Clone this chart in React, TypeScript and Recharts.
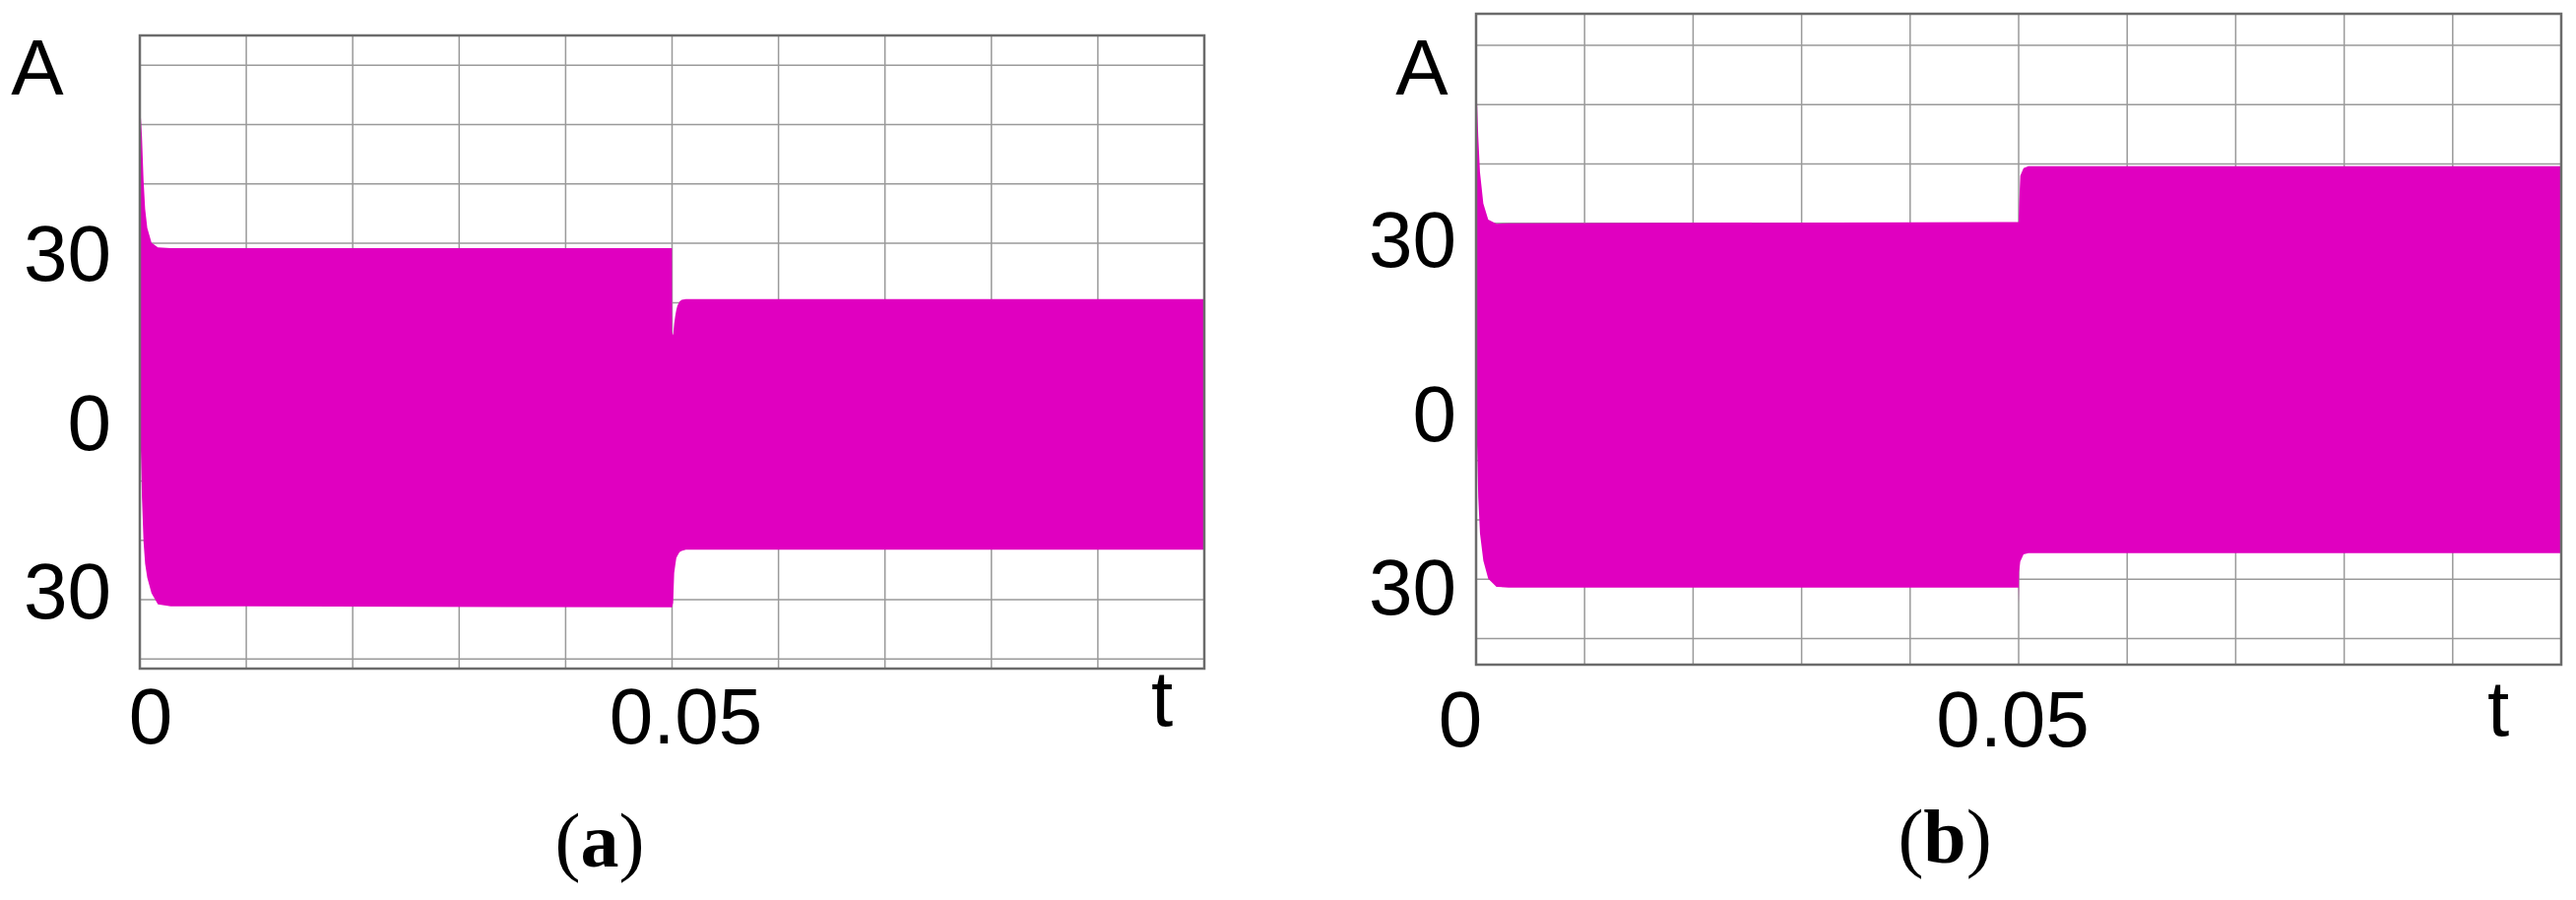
import { AreaChart, Area, XAxis, YAxis, CartesianGrid, ReferenceArea, Label } from 'recharts';

const MAGENTA = '#e000c0';
const GRID = '#9a9a9a';
const FRAME = '#6b6b6b';
const SANS = "'Liberation Sans', Arial, sans-serif";
const SERIF = "'Liberation Serif', 'Times New Roman', serif";

// shared axes (time in s, current in A)
const X_TICKS = [0, 0.01, 0.02, 0.03, 0.04, 0.05, 0.06, 0.07, 0.08, 0.09, 0.1];
const Y_TICKS = [-40, -30, -20, -10, 0, 10, 20, 30, 40, 50, 60];
const X_LABELS: Record<string, string> = { '0': '0', '0.05': '0.05', '0.1': 't' };
const Y_LABELS: Record<string, string> = { '30': '30', '0': '0', '-30': '30', '60': 'A' };

// panel (a): envelope of the current (upper / lower peaks)
const tA = [0, 0.0001, 0.0002, 0.00035, 0.0005, 0.0007, 0.0011, 0.0017, 0.0029, 0.04999, 0.05, 0.0501, 0.0502, 0.0503, 0.0504, 0.0505, 0.0507, 0.0509, 0.0513, 0.1];
const upperA = [54.3, 51, 48, 40.6, 35.8, 32.6, 30.1, 29.3, 29.2, 29.2, 15, 14.5, 16.5, 17.8, 18.8, 19.5, 20.2, 20.5, 20.6, 20.6];
const lowerA = [0, -5.3, -12.9, -20.3, -24, -26.3, -28.9, -30.8, -31.1, -31.3, -31.3, -30.5, -25.5, -24.2, -23, -22.6, -22, -21.8, -21.6, -21.6];

// panel (b)
const tB = [0, 0.0001, 0.0002, 0.00036, 0.00067, 0.00112, 0.00188, 0.003, 0.04999, 0.05, 0.05004, 0.05015, 0.05045, 0.0509, 0.1];
const upperB = [54.2, 50, 44.7, 38.6, 33.3, 30.6, 29.9, 30, 30.2, 30.2, 33, 38, 39.3, 39.6, 39.6];
const lowerB = [0, -8, -16.2, -22.3, -26.9, -29.9, -31.3, -31.4, -31.4, -34, -28.8, -27, -25.8, -25.6, -25.6];

const dataA = tA.map((t, i) => ({ t, band: [lowerA[i], upperA[i]] }));
const dataB = tB.map((t, i) => ({ t, band: [lowerB[i], upperB[i]] }));

type PanelCfg = {
  left: number;
  width: number;
  top: number;
  right: number;
  yAxisWidth: number;
  xAxisHeight: number;
  yDomain: [number, number];
  yGap: number;
  yDy: Record<string, number>;
  aDx: number;
  aDy: number;
  xDx: Record<string, number>;
  xDy: Record<string, number>;
  caption: string;
};

const cfgA: PanelCfg = {
  left: 0,
  width: 1260,
  top: 36,
  right: 37,
  yAxisWidth: 142,
  xAxisHeight: 235,
  yDomain: [-41.6, 65],
  yGap: 29,
  yDy: { '30': 9, '0': 0, '-30': -10 },
  aDx: -104,
  aDy: 30,
  xDx: { '0': 11, '0.05': 14, '0.1': -43 },
  xDy: { '0': 76, '0.05': 76, '0.1': 58 },
  caption: 'a',
};

const cfgB: PanelCfg = {
  left: 1300,
  width: 1316,
  top: 14,
  right: 15,
  yAxisWidth: 199,
  xAxisHeight: 239,
  yDomain: [-44.4, 65.3],
  yGap: 20,
  yDy: { '30': 16, '0': 12, '-30': 7 },
  aDx: -55,
  aDy: 50,
  xDx: { '0': -16, '0.05': -6, '0.1': -64 },
  xDy: { '0': 83, '0.05': 83, '0.1': 72 },
  caption: 'b',
};

const YTick = ({ x, y, payload, cfg }: any) => {
  const key = String(payload.value);
  const text = Y_LABELS[key];
  if (!text) return <g />;
  if (key === '60') {
    return (
      <text x={x + cfg.aDx} y={y + cfg.aDy} textAnchor="middle" fontFamily={SANS} fontSize={80} fill="#000">
        {text}
      </text>
    );
  }
  return (
    <text x={x - cfg.yGap} y={y + cfg.yDy[key] + 28.6} textAnchor="end" fontFamily={SANS} fontSize={80} fill="#000">
      {text}
    </text>
  );
};

const XTick = ({ x, y, payload, cfg }: any) => {
  const key = String(payload.value);
  const text = X_LABELS[key];
  if (!text) return <g />;
  return (
    <text x={x + cfg.xDx[key]} y={y + cfg.xDy[key]} textAnchor="middle" fontFamily={SANS} fontSize={80} fill="#000">
      {text}
    </text>
  );
};

const Caption = ({ viewBox, letter }: any) => {
  if (!viewBox) return null;
  return (
    <text x={viewBox.x + viewBox.width * 0.432} y={viewBox.y + 201} textAnchor="middle" fontFamily={SERIF} fontSize={78} fill="#000">
      (<tspan fontWeight="bold">{letter}</tspan>)
    </text>
  );
};

function Panel({ data, cfg }: { data: { t: number; band: number[] }[]; cfg: PanelCfg }) {
  return (
    <div style={{ position: 'absolute', left: cfg.left, top: 0 }}>
      <AreaChart width={cfg.width} height={914} data={data} margin={{ top: cfg.top, right: cfg.right, bottom: 0, left: 0 }}>
        <CartesianGrid stroke={GRID} strokeWidth={1.5} />
        <XAxis
          type="number"
          dataKey="t"
          domain={[0, 0.1]}
          ticks={X_TICKS}
          interval={0}
          allowDataOverflow
          axisLine={false}
          tickLine={false}
          tickSize={0}
          tickMargin={0}
          height={cfg.xAxisHeight}
          tick={(p: any) => <XTick {...p} cfg={cfg} />}
        >
          <Label content={(p: any) => <Caption viewBox={p.viewBox} letter={cfg.caption} />} />
        </XAxis>
        <YAxis
          type="number"
          domain={cfg.yDomain}
          ticks={Y_TICKS}
          interval={0}
          allowDataOverflow
          axisLine={false}
          tickLine={false}
          tickSize={0}
          tickMargin={0}
          width={cfg.yAxisWidth}
          tick={(p: any) => <YTick {...p} cfg={cfg} />}
        />
        <Area
          type="linear"
          dataKey="band"
          stroke="none"
          fill={MAGENTA}
          fillOpacity={1}
          dot={false}
          activeDot={false}
          isAnimationActive={false}
        />
        <ReferenceArea
          x1={0}
          x2={0.1}
          y1={cfg.yDomain[0]}
          y2={cfg.yDomain[1]}
          fill="none"
          fillOpacity={0}
          stroke={FRAME}
          strokeWidth={2.5}
          ifOverflow="visible"
        />
      </AreaChart>
    </div>
  );
}

export default function App() {
  return (
    <div style={{ position: 'absolute', left: 0, top: 0, width: 2616, height: 914, background: '#fff' }}>
      <Panel data={dataA} cfg={cfgA} />
      <Panel data={dataB} cfg={cfgB} />
    </div>
  );
}
